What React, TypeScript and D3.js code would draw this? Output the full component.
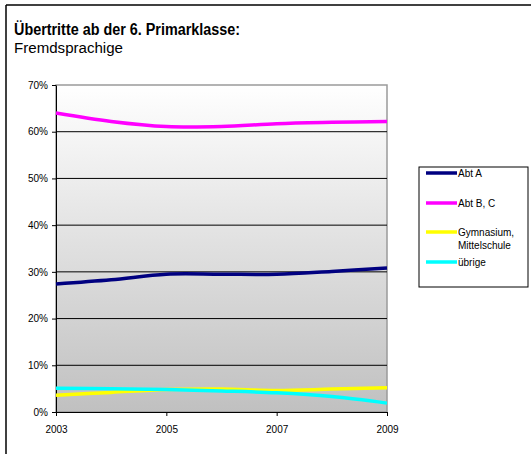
import { axisBottom, axisLeft, curveCatmullRom, line, scaleLinear, select } from 'd3';
import { useEffect, useRef } from 'react';

const years = [2003, 2004, 2005, 2006, 2007, 2008, 2009];
const yearTicks = [2003, 2005, 2007, 2009];
const percentTicks = [0, 0.1, 0.2, 0.3, 0.4, 0.5, 0.6, 0.7];

const abtA = [0.274, 0.283, 0.295, 0.295, 0.295, 0.301, 0.308];
const abtBC = [0.64, 0.622, 0.611, 0.611, 0.617, 0.62, 0.622];
const gymnasium = [0.036, 0.042, 0.048, 0.049, 0.046, 0.049, 0.052];
const uebrige = [0.051, 0.05, 0.048, 0.045, 0.041, 0.033, 0.019];

const seriesNames = ['Abt A', 'Abt B, C', 'Gymnasium, Mittelschule', 'übrige'];
const seriesColors = ['#000080', '#ff00ff', '#ffff00', '#00ffff'];
const seriesValues = [abtA, abtBC, gymnasium, uebrige];

const WIDTH = 531;
const HEIGHT = 454;
const PLOT = { left: 56, right: 387, top: 85, bottom: 412 };
const FONT = '"Liberation Sans", Arial, sans-serif';

export default function App() {
  const xAxisRef = useRef<SVGGElement | null>(null);
  const yAxisRef = useRef<SVGGElement | null>(null);

  const xScale = scaleLinear().domain([2003, 2009]).range([PLOT.left, PLOT.right]);
  const yScale = scaleLinear().domain([0, 0.7]).range([PLOT.bottom, PLOT.top]);

  const pathFor = line<number>()
    .x((_, i) => xScale(years[i]))
    .y((v) => yScale(v))
    .curve(curveCatmullRom.alpha(0.5));

  useEffect(() => {
    if (!xAxisRef.current || !yAxisRef.current) return;

    select(xAxisRef.current)
      .attr('transform', `translate(0, ${PLOT.bottom})`)
      .call(axisBottom(xScale).tickValues(yearTicks).tickFormat((d) => String(d)).tickSize(4).tickPadding(10).tickSizeOuter(0))
      .call((g) => {
        g.select('.domain').attr('stroke', '#000').attr('stroke-width', 1);
        g.selectAll('line').attr('stroke', '#000');
        g.selectAll('text').attr('fill', '#000').attr('font-size', 10).attr('font-family', FONT);
      });

    select(yAxisRef.current)
      .attr('transform', `translate(${PLOT.left}, 0)`)
      .call(axisLeft(yScale).tickValues(percentTicks).tickFormat((d) => `${Math.round(+d * 100)}%`).tickSize(4).tickPadding(4).tickSizeOuter(0))
      .call((g) => {
        g.select('.domain').attr('stroke', '#000').attr('stroke-width', 1);
        g.selectAll('line').attr('stroke', '#000');
        g.selectAll('text').attr('fill', '#000').attr('font-size', 10).attr('font-family', FONT);
      });
  }, []);

  const legendRows = [
    { lineY: 173, texts: [{ t: seriesNames[0], y: 173 }] },
    { lineY: 203, texts: [{ t: seriesNames[1], y: 203 }] },
    { lineY: 232, texts: [{ t: 'Gymnasium,', y: 232 }, { t: 'Mittelschule', y: 245 }] },
    { lineY: 262, texts: [{ t: seriesNames[3], y: 262 }] },
  ];

  return (
    <svg width={WIDTH} height={HEIGHT} style={{ position: 'absolute', left: 0, top: 0, background: '#fff' }}>
      <defs>
        <linearGradient id="plotBg" x1="0" y1="0" x2="0" y2="1">
          <stop offset="0%" stopColor="#ffffff" />
          <stop offset="100%" stopColor="#c0c0c0" />
        </linearGradient>
      </defs>

      <line x1={6} x2={WIDTH} y1={5} y2={5} stroke="#000" strokeWidth={1.5} />
      <line x1={6} x2={6} y1={5} y2={HEIGHT} stroke="#000" strokeWidth={1.5} />

      <text
        x={14}
        y={35}
        fontFamily={FONT}
        fontWeight="bold"
        fontSize={16}
        textLength={226}
        lengthAdjust="spacingAndGlyphs"
      >
        Übertritte ab der 6. Primarklasse:
      </text>
      <text x={14} y={53} fontFamily={FONT} fontSize={14} textLength={109} lengthAdjust="spacingAndGlyphs">
        Fremdsprachige
      </text>

      <rect
        x={PLOT.left}
        y={PLOT.top}
        width={PLOT.right - PLOT.left}
        height={PLOT.bottom - PLOT.top}
        fill="url(#plotBg)"
        stroke="#9a9a9a"
        strokeWidth={1.5}
      />

      {percentTicks.slice(1, -1).map((tick) => (
        <line key={tick} x1={PLOT.left} x2={PLOT.right} y1={yScale(tick)} y2={yScale(tick)} stroke="#000" strokeWidth={1} />
      ))}

      <g ref={xAxisRef} />
      <g ref={yAxisRef} />

      {seriesValues.map((values, i) => (
        <path key={seriesNames[i]} d={pathFor(values) ?? ''} fill="none" stroke={seriesColors[i]} strokeWidth={3.5} />
      ))}

      <rect x={419} y={167} width={109} height={120} fill="#fff" stroke="#000" strokeWidth={1} />
      {legendRows.map((row, i) => (
        <g key={seriesNames[i]}>
          <line x1={426} x2={457} y1={row.lineY} y2={row.lineY} stroke={seriesColors[i]} strokeWidth={3.5} />
          {row.texts.map((t) => (
            <text key={t.t} x={458} y={t.y} dy="0.35em" fontFamily={FONT} fontSize={10} fill="#000">
              {t.t}
            </text>
          ))}
        </g>
      ))}
    </svg>
  );
}
